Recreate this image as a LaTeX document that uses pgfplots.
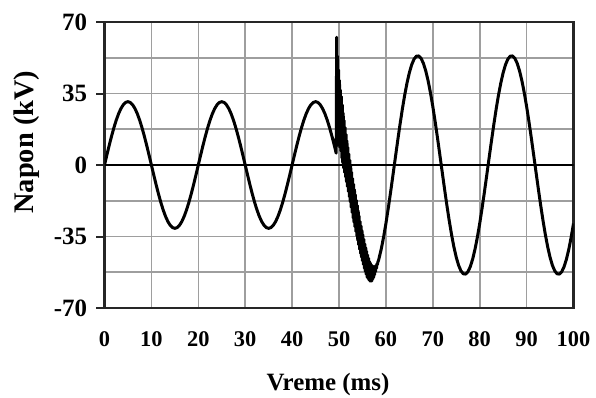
\documentclass[border=0pt]{standalone}
\usepackage{fontspec}
\setmainfont{Liberation Serif}
\usepackage{pgfplots}
\pgfplotsset{compat=1.18}
\begin{document}
\begin{tikzpicture}
\useasboundingbox (0,0) rectangle (596bp,398bp);
\begin{axis}[
  at={(104.5bp,90bp)}, anchor=south west,
  scale only axis, width=469bp, height=286bp,
  xmin=0, xmax=100, ymin=-70, ymax=70,
  xtick={0,10,20,30,40,50,60,70,80,90,100},
  xticklabels={0,10,20,30,40,50,60,70,80,90,100},
  ytick={-70,-35,0,35,70},
  yticklabels={-70,-35,0,35,70},
  minor ytick={-52.5,-17.5,17.5,52.5},
  grid=both,
  major grid style={color=black!38, line width=1.6bp},
  minor grid style={color=black!38, line width=1.6bp},
  tick align=outside,
  major tick length=8bp,
  minor tick length=0pt,
  ytick pos=left,
  xtick style={draw=none},
  ytick style={line width=2bp, color=black!85},
  axis line style={line width=2.6bp, color=black!85},
  xticklabel style={font=\bfseries\fontsize{22.5}{22.5}\selectfont, yshift=-12bp},
  yticklabel style={font=\bfseries\fontsize{25}{25}\selectfont, xshift=-6bp},
  xlabel={Vreme (ms)},
  ylabel={Napon (kV)},
  xlabel style={font=\bfseries\fontsize{25}{25}\selectfont, at={(axis description cs:0.4766,-0.266)}, anchor=center},
  ylabel style={font=\bfseries\fontsize{28.5}{28.5}\selectfont, at={(axis description cs:-0.167,0.58)}, anchor=center, rotate=0},
  clip=true,
]
\addplot[black, line width=1.8bp] coordinates {(0,0) (100,0)};
\addplot[black, line width=3bp, line join=round] coordinates {
(0,0) (0.5,4.85) (1,9.58) (1.5,14.07) (2,18.22) (2.5,21.92) (3,25.08) (3.5,27.62) (4,29.48) (4.5,30.62)
(5,31) (5.5,30.62) (6,29.48) (6.5,27.62) (7,25.08) (7.5,21.92) (8,18.22) (8.5,14.07) (9,9.58) (9.5,4.85)
(10,0) (10.5,-4.85) (11,-9.58) (11.5,-14.07) (12,-18.22) (12.5,-21.92) (13,-25.08) (13.5,-27.62) (14,-29.48) (14.5,-30.62)
(15,-31) (15.5,-30.62) (16,-29.48) (16.5,-27.62) (17,-25.08) (17.5,-21.92) (18,-18.22) (18.5,-14.07) (19,-9.58) (19.5,-4.85)
(20,0) (20.5,4.85) (21,9.58) (21.5,14.07) (22,18.22) (22.5,21.92) (23,25.08) (23.5,27.62) (24,29.48) (24.5,30.62)
(25,31) (25.5,30.62) (26,29.48) (26.5,27.62) (27,25.08) (27.5,21.92) (28,18.22) (28.5,14.07) (29,9.58) (29.5,4.85)
(30,0) (30.5,-4.85) (31,-9.58) (31.5,-14.07) (32,-18.22) (32.5,-21.92) (33,-25.08) (33.5,-27.62) (34,-29.48) (34.5,-30.62)
(35,-31) (35.5,-30.62) (36,-29.48) (36.5,-27.62) (37,-25.08) (37.5,-21.92) (38,-18.22) (38.5,-14.07) (39,-9.58) (39.5,-4.85)
(40,0) (40.5,4.85) (41,9.58) (41.5,14.07) (42,18.22) (42.5,21.92) (43,25.08) (43.5,27.62) (44,29.48) (44.5,30.62)
(45,31) (45.5,30.62) (46,29.48) (46.5,27.62) (47,25.08) (47.5,21.92) (48,18.22) (48.5,14.07) (49,9.58) (49.4,5.81)
(49.5,62.5) (49.6,9.4) (49.7,53.3) (49.8,10.7) (49.9,46.6) (50.0,10) (50.1,41.4) (50.2,8.6) (50.3,36.7) (50.4,6.8)
(50.5,33.5) (50.6,3.4) (50.7,29.4) (50.8,1.0) (50.9,25.4) (51.0,-1.5) (51.1,21.8) (51.2,-3.7) (51.3,18.4) (51.4,-5.9)
(51.5,15) (51.6,-8.2) (51.7,11.8) (51.8,-10.6) (51.9,8.6) (52.0,-13) (52.1,5.4) (52.2,-15.5) (52.3,2.4) (52.4,-18.1)
(52.5,-0.6) (52.6,-20.7) (52.7,-3.6) (52.8,-23.3) (52.9,-6.6) (53.0,-25.9) (53.1,-9.4) (53.2,-28.1) (53.3,-12) (53.4,-30.3)
(53.5,-14.6) (53.6,-32.5) (53.7,-17.2) (53.8,-34.7) (53.9,-19.8) (54.0,-36.9) (54.1,-22.4) (54.2,-39.1) (54.3,-25) (54.4,-41.3)
(54.5,-27.6) (54.6,-43.3) (54.7,-29.8) (54.8,-45.1) (54.9,-32) (55.0,-46.9) (55.1,-34.2) (55.2,-48.7) (55.3,-36.4) (55.4,-50.5)
(55.5,-38.6) (55.6,-52.1) (55.7,-40.4) (55.8,-53.5) (55.9,-42.2) (56.0,-54.9) (56.1,-44) (56.2,-55.6) (56.3,-45.6) (56.4,-56.4)
(56.5,-47.2) (56.6,-56.8) (56.7,-48) (56.8,-56.8) (56.9,-48.8) (57.0,-56.8) (57.1,-49.34) (57.2,-55.88) (57.3,-49.62) (57.4,-54.96)
(57.5,-49.9) (57.6,-53.7) (57.7,-49.5) (57.8,-52.1) (57.9,-49.1) (58.0,-50.5) (58.1,-48.38) (58.2,-48.66) (58.3,-47.34) (58.4,-46.92)
(58.5,-46.05) (59,-41.22) (59.5,-35.38) (60,-28.67) (60.5,-21.24) (61,-13.31) (61.5,-5.03)
(62,3.36) (62.5,11.67) (63,19.69) (63.5,27.23) (64,34.10) (64.5,40.13) (65,45.17) (65.5,49.10) (66,51.82) (66.5,53.26)
(67,53.39) (67.5,52.21) (68,49.74) (68.5,46.05) (69,41.22) (69.5,35.38) (70,28.67) (70.5,21.24) (71,13.31) (71.5,5.03)
(72,-3.36) (72.5,-11.67) (73,-19.69) (73.5,-27.23) (74,-34.10) (74.5,-40.13) (75,-45.17) (75.5,-49.10) (76,-51.82) (76.5,-53.26)
(77,-53.39) (77.5,-52.21) (78,-49.74) (78.5,-46.05) (79,-41.22) (79.5,-35.38) (80,-28.67) (80.5,-21.24) (81,-13.31) (81.5,-5.03)
(82,3.36) (82.5,11.67) (83,19.69) (83.5,27.23) (84,34.10) (84.5,40.13) (85,45.17) (85.5,49.10) (86,51.82) (86.5,53.26)
(87,53.39) (87.5,52.21) (88,49.74) (88.5,46.05) (89,41.22) (89.5,35.38) (90,28.67) (90.5,21.24) (91,13.31) (91.5,5.03)
(92,-3.36) (92.5,-11.67) (93,-19.69) (93.5,-27.23) (94,-34.10) (94.5,-40.13) (95,-45.17) (95.5,-49.10) (96,-51.82) (96.5,-53.26)
(97,-53.39) (97.5,-52.21) (98,-49.74) (98.5,-46.05) (99,-41.22) (99.5,-35.38) (100,-28.67)
};
\end{axis}
\end{tikzpicture}
\end{document}
